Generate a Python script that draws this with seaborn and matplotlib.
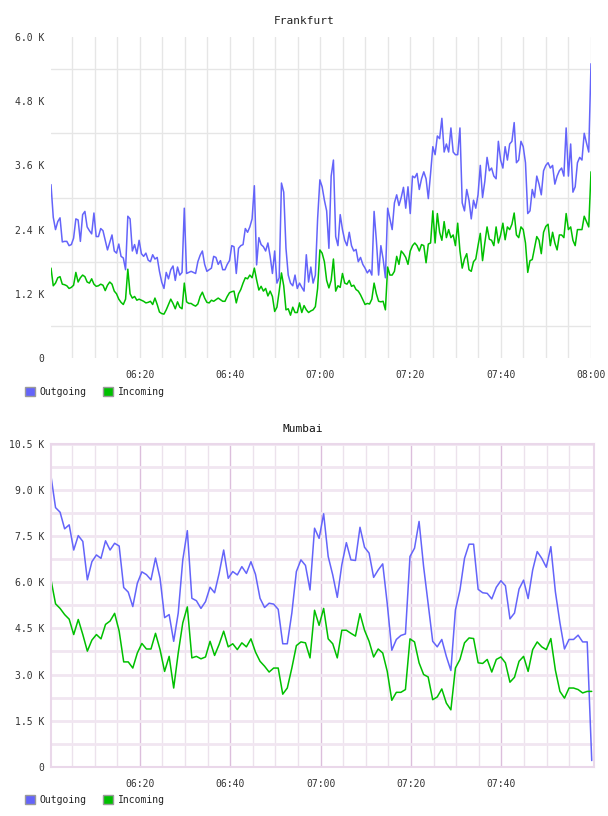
import numpy as np
import pandas as pd
import seaborn as sns
import matplotlib
matplotlib.use('Agg')
import matplotlib.pyplot as plt
import matplotlib.dates as mdates
from matplotlib.patches import Patch
from matplotlib.ticker import FuncFormatter, MultipleLocator, FixedLocator

# Frankfurt: one sample every 30 s, values in thousands
fra_out = [
    3.24, 2.63, 2.40, 2.55, 2.62, 2.17, 2.18, 2.18, 2.10, 2.12,
    2.24, 2.60, 2.58, 2.18, 2.68, 2.74, 2.45, 2.38, 2.32, 2.71,
    2.27, 2.27, 2.42, 2.38, 2.20, 2.02, 2.16, 2.30, 2.00, 1.96,
    2.13, 1.90, 1.87, 1.65, 2.65, 2.60, 2.00, 2.12, 1.95, 2.20,
    1.95, 1.90, 1.96, 1.83, 1.80, 1.93, 1.85, 1.88, 1.62, 1.42,
    1.30, 1.60, 1.48, 1.65, 1.72, 1.45, 1.70, 1.55, 1.60, 2.80,
    1.58, 1.60, 1.62, 1.60, 1.58, 1.80, 1.92, 2.00, 1.75, 1.62,
    1.65, 1.68, 1.90, 1.88, 1.75, 1.82, 1.65, 1.65, 1.75, 1.82,
    2.10, 2.08, 1.58, 2.05, 2.10, 2.12, 2.42, 2.35, 2.45, 2.60,
    3.22, 1.74, 2.25, 2.12, 2.08, 2.00, 2.15, 1.90, 1.58, 2.00,
    1.40, 1.50, 3.27, 3.10, 2.05, 1.55, 1.40, 1.35, 1.55, 1.30,
    1.40, 1.32, 1.25, 1.93, 1.42, 1.70, 1.40, 1.55, 2.60, 3.33,
    3.20, 2.95, 2.75, 2.05, 3.40, 3.70, 2.27, 2.10, 2.68, 2.40,
    2.20, 2.10, 2.35, 2.10, 2.00, 2.03, 1.80, 1.88, 1.75, 1.68,
    1.59, 1.65, 1.55, 2.74, 2.20, 1.55, 2.10, 1.85, 1.50, 2.80,
    2.60, 2.40, 2.90, 3.05, 2.85, 3.00, 3.19, 2.80, 3.20, 2.70,
    3.40, 3.37, 3.45, 3.15, 3.35, 3.48, 3.35, 2.98, 3.45, 3.95,
    3.80, 4.15, 4.10, 4.48, 3.85, 4.00, 3.85, 4.30, 3.85, 3.80,
    3.80, 4.30, 2.90, 2.75, 3.15, 2.95, 2.60, 2.95, 2.80, 3.05,
    3.60, 3.00, 3.30, 3.75, 3.50, 3.55, 3.40, 3.35, 4.05, 3.70,
    3.55, 3.95, 3.70, 4.00, 4.05, 4.40, 3.65, 3.70, 4.05, 3.95,
    3.65, 2.70, 2.75, 3.15, 3.00, 3.40, 3.25, 3.05, 3.50, 3.60,
    3.65, 3.55, 3.60, 3.25, 3.40, 3.50, 3.55, 3.40, 4.30, 3.40,
    4.00, 3.10, 3.20, 3.65, 3.75, 3.70, 4.20, 4.02, 3.85, 5.50,
]
fra_in = [
    1.68, 1.35, 1.40, 1.50, 1.52, 1.38, 1.37, 1.35, 1.30, 1.32,
    1.36, 1.60, 1.42, 1.50, 1.55, 1.52, 1.42, 1.40, 1.48, 1.38,
    1.34, 1.35, 1.38, 1.36, 1.26, 1.36, 1.42, 1.38, 1.25, 1.20,
    1.10, 1.04, 1.00, 1.10, 1.66, 1.20, 1.12, 1.15, 1.08, 1.10,
    1.08, 1.06, 1.03, 1.04, 1.06, 1.00, 1.12, 1.00, 0.86, 0.83,
    0.82, 0.90, 1.00, 1.10, 1.02, 0.92, 1.05, 0.95, 0.92, 1.40,
    1.05, 1.02, 1.02, 0.99, 0.97, 1.01, 1.15, 1.23, 1.12, 1.04,
    1.03, 1.08, 1.06, 1.09, 1.12, 1.09, 1.06, 1.06, 1.15, 1.22,
    1.24, 1.25, 1.03, 1.20, 1.28, 1.40, 1.50, 1.48, 1.55, 1.50,
    1.68, 1.46, 1.27, 1.34, 1.25, 1.30, 1.16, 1.25, 1.15, 0.87,
    0.95, 1.25, 1.59, 1.35, 0.90, 0.92, 0.80, 0.95, 0.85, 0.85,
    1.03, 0.85, 0.98, 0.90, 0.85, 0.88, 0.90, 0.96, 1.30, 2.02,
    1.96, 1.80, 1.45, 1.31, 1.45, 1.85, 1.25, 1.35, 1.32, 1.58,
    1.40, 1.38, 1.45, 1.34, 1.36, 1.28, 1.25, 1.18, 1.09, 1.00,
    1.02, 1.01, 1.10, 1.40, 1.20, 1.06, 1.05, 1.06, 0.90, 1.70,
    1.55, 1.55, 1.62, 1.90, 1.75, 2.00, 1.95, 1.88, 1.75, 2.00,
    2.10, 2.15, 2.10, 2.00, 2.12, 2.10, 1.78, 2.13, 2.15, 2.75,
    2.15, 2.70, 2.35, 2.20, 2.55, 2.25, 2.40, 2.25, 2.30, 2.10,
    2.52, 2.00, 1.68, 1.85, 1.95, 1.65, 1.62, 1.80, 1.85, 2.10,
    2.33, 1.82, 2.15, 2.45, 2.22, 2.20, 2.10, 2.45, 2.15, 2.30,
    2.52, 2.21, 2.45, 2.40, 2.50, 2.71, 2.30, 2.25, 2.45, 2.40,
    2.15, 1.60, 1.82, 1.84, 2.05, 2.27, 2.20, 1.95, 2.35, 2.46,
    2.50, 2.10, 2.35, 2.15, 2.02, 2.30, 2.30, 2.25, 2.70, 2.40,
    2.45, 2.20, 2.10, 2.40, 2.40, 2.40, 2.65, 2.55, 2.45, 3.48,
]

# Mumbai: one sample a minute, values in thousands
mum_out = [
    9.45, 8.43, 8.28, 7.74, 7.87, 7.05, 7.52, 7.33, 6.08, 6.67,
    6.89, 6.78, 7.35, 7.05, 7.27, 7.18, 5.83, 5.68, 5.21, 5.97,
    6.34, 6.25, 6.08, 6.79, 6.13, 4.85, 4.95, 4.08, 5.00, 6.73,
    7.68, 5.48, 5.40, 5.15, 5.37, 5.84, 5.66, 6.29, 7.05, 6.13,
    6.35, 6.24, 6.51, 6.29, 6.67, 6.26, 5.48, 5.18, 5.32, 5.29,
    5.12, 4.00, 4.00, 5.00, 6.35, 6.73, 6.55, 5.75, 7.76, 7.43,
    8.23, 6.84, 6.24, 5.51, 6.57, 7.29, 6.73, 6.71, 7.79, 7.14,
    6.95, 6.16, 6.40, 6.60, 5.30, 3.79, 4.14, 4.27, 4.32, 6.84,
    7.11, 7.98, 6.51, 5.30, 4.08, 3.90, 4.14, 3.59, 3.13, 5.10,
    5.75, 6.78, 7.24, 7.24, 5.77, 5.66, 5.64, 5.46, 5.84, 6.05,
    5.89, 4.81, 5.00, 5.78, 6.07, 5.47, 6.40, 7.00, 6.78, 6.49,
    7.16, 5.69, 4.68, 3.83, 4.14, 4.14, 4.28, 4.06, 4.06, 0.20,
]
mum_in = [
    6.08, 5.30, 5.15, 4.95, 4.80, 4.30, 4.79, 4.30, 3.76, 4.12,
    4.30, 4.16, 4.63, 4.74, 4.99, 4.41, 3.41, 3.41, 3.21, 3.70,
    4.01, 3.83, 3.83, 4.34, 3.81, 3.10, 3.59, 2.56, 3.70, 4.68,
    5.20, 3.54, 3.59, 3.51, 3.57, 4.08, 3.62, 3.98, 4.41, 3.90,
    4.00, 3.81, 4.03, 3.90, 4.16, 3.73, 3.43, 3.27, 3.08, 3.21,
    3.21, 2.36, 2.56, 3.21, 3.94, 4.06, 4.03, 3.54, 5.09, 4.60,
    5.15, 4.16, 4.00, 3.54, 4.44, 4.44, 4.34, 4.25, 4.98, 4.44,
    4.08, 3.57, 3.83, 3.70, 3.10, 2.16, 2.42, 2.42, 2.51, 4.16,
    4.06, 3.38, 3.00, 2.92, 2.18, 2.27, 2.53, 2.07, 1.85, 3.21,
    3.49, 4.03, 4.19, 4.17, 3.38, 3.36, 3.49, 3.08, 3.49, 3.57,
    3.38, 2.75, 2.91, 3.43, 3.59, 3.10, 3.81, 4.06, 3.90, 3.81,
    4.17, 3.14, 2.45, 2.23, 2.56, 2.56, 2.51, 2.40, 2.45, 2.45,
]

series_names = ['Outgoing', 'Incoming']
OUT_COLOR = '#6464fa'
IN_COLOR = '#00c000'
palette = {'Outgoing': OUT_COLOR, 'Incoming': IN_COLOR}

day = '2024-01-01 '
fra_times = pd.date_range(day + '06:00:20', day + '08:00:00', periods=len(fra_out))
mum_times = pd.date_range(day + '06:00:20', day + '08:00:00', periods=len(mum_out))


def long_frame(times, out_vals, in_vals):
    n = len(times)
    return pd.DataFrame({
        'time': np.concatenate([times, times]),
        'value': np.concatenate([out_vals, in_vals]),
        'series': ['Outgoing'] * n + ['Incoming'] * n,
    })


fra_df = long_frame(fra_times, fra_out, fra_in)
mum_df = long_frame(mum_times, mum_out, mum_in)

sns.set_style('white')
plt.rcParams['font.family'] = ['DejaVu Sans Mono']
plt.rcParams['axes.axisbelow'] = True

W, H = 608, 816
fig = plt.figure(figsize=(W / 100, H / 100), dpi=100)

kfmt = FuncFormatter(lambda v, p: '0' if abs(v) < 1e-9 else f'{v:.1f} K')
tick_color = '#333333'

# ---------- Frankfurt ----------
ax1 = fig.add_axes([51 / W, 1 - 358 / H, 540 / W, 321 / H])
sns.lineplot(data=fra_df, x='time', y='value', hue='series', hue_order=series_names,
             palette=palette, linewidth=1.1, legend=False, estimator=None, ax=ax1)
ax1.set_xlim(fra_times[0], fra_times[-1])
ax1.set_ylim(0, 6.0)
ax1.xaxis.set_major_locator(mdates.MinuteLocator(byminute=[0, 20, 40]))
ax1.xaxis.set_major_formatter(mdates.DateFormatter('%H:%M'))
ax1.xaxis.set_minor_locator(mdates.MinuteLocator(byminute=range(0, 60, 5)))
ax1.yaxis.set_major_locator(MultipleLocator(1.2))
ax1.yaxis.set_major_formatter(kfmt)
ax1.yaxis.set_minor_locator(FixedLocator([0.6, 1.8, 3.0, 4.2, 5.4]))
ax1.grid(which='both', axis='x', color='#e6e6e6', linewidth=1)
ax1.grid(which='minor', axis='y', color='#e6e6e6', linewidth=1)
ax1.grid(which='major', axis='y', visible=False)
for s in ax1.spines.values():
    s.set_visible(False)
ax1.set_xlabel('')
ax1.set_ylabel('')

# ---------- Mumbai ----------
ax2 = fig.add_axes([51 / W, 1 - 766.7 / H, 543 / W, 322.7 / H])
sns.lineplot(data=mum_df, x='time', y='value', hue='series', hue_order=series_names,
             palette=palette, linewidth=1.1, legend=False, estimator=None, ax=ax2)
ax2.set_xlim(mum_times[0], mum_times[-1] + pd.Timedelta(seconds=30))
ax2.set_ylim(0, 10.5)
label_times = [pd.Timestamp(day + t) for t in ['06:20', '06:40', '07:00', '07:20', '07:40']]
ax2.set_xticks(label_times)
ax2.xaxis.set_major_formatter(mdates.DateFormatter('%H:%M'))
ax2.xaxis.set_minor_locator(mdates.MinuteLocator(byminute=[5, 10, 15, 25, 30, 35, 45, 50, 55]))
ax2.yaxis.set_major_locator(MultipleLocator(1.5))
ax2.yaxis.set_major_formatter(kfmt)
ax2.yaxis.set_minor_locator(MultipleLocator(0.75))
ax2.grid(which='major', axis='x', color='#dcbedc', linewidth=1)
ax2.grid(which='minor', axis='x', color='#ece2ec', linewidth=1)
ax2.grid(which='both', axis='y', color='#f1e6f1', linewidth=2)
for s in ax2.spines.values():
    s.set_visible(True)
    s.set_color('#ead8ea')
    s.set_linewidth(1.5)
ax2.set_xlabel('')
ax2.set_ylabel('')

for ax in (ax1, ax2):
    ax.tick_params(axis='both', which='both', length=0, labelsize=7, colors=tick_color)
    ax.tick_params(axis='y', pad=5)
    ax.tick_params(axis='x', pad=9)

fig.text(304 / W, 1 - 21 / H, 'Frankfurt', ha='center', va='center', fontsize=8, color='#222222')
fig.text(303 / W, 1 - 429 / H, 'Mumbai', ha='center', va='center', fontsize=8, color='#111111')

handles = [Patch(facecolor=OUT_COLOR, edgecolor='#9a9a9a', linewidth=1),
           Patch(facecolor=IN_COLOR, edgecolor='#9a9a9a', linewidth=1)]
for ycen in (392, 800):
    fig.legend(handles, series_names, loc='center left', bbox_to_anchor=(25 / W, 1 - ycen / H),
               ncol=2, frameon=False, fontsize=7, handlelength=1.0, handleheight=1.0,
               handletextpad=0.5, columnspacing=1.7, borderaxespad=0, borderpad=0,
               labelcolor='#222222')

fig.savefig('out.png', dpi=100)
